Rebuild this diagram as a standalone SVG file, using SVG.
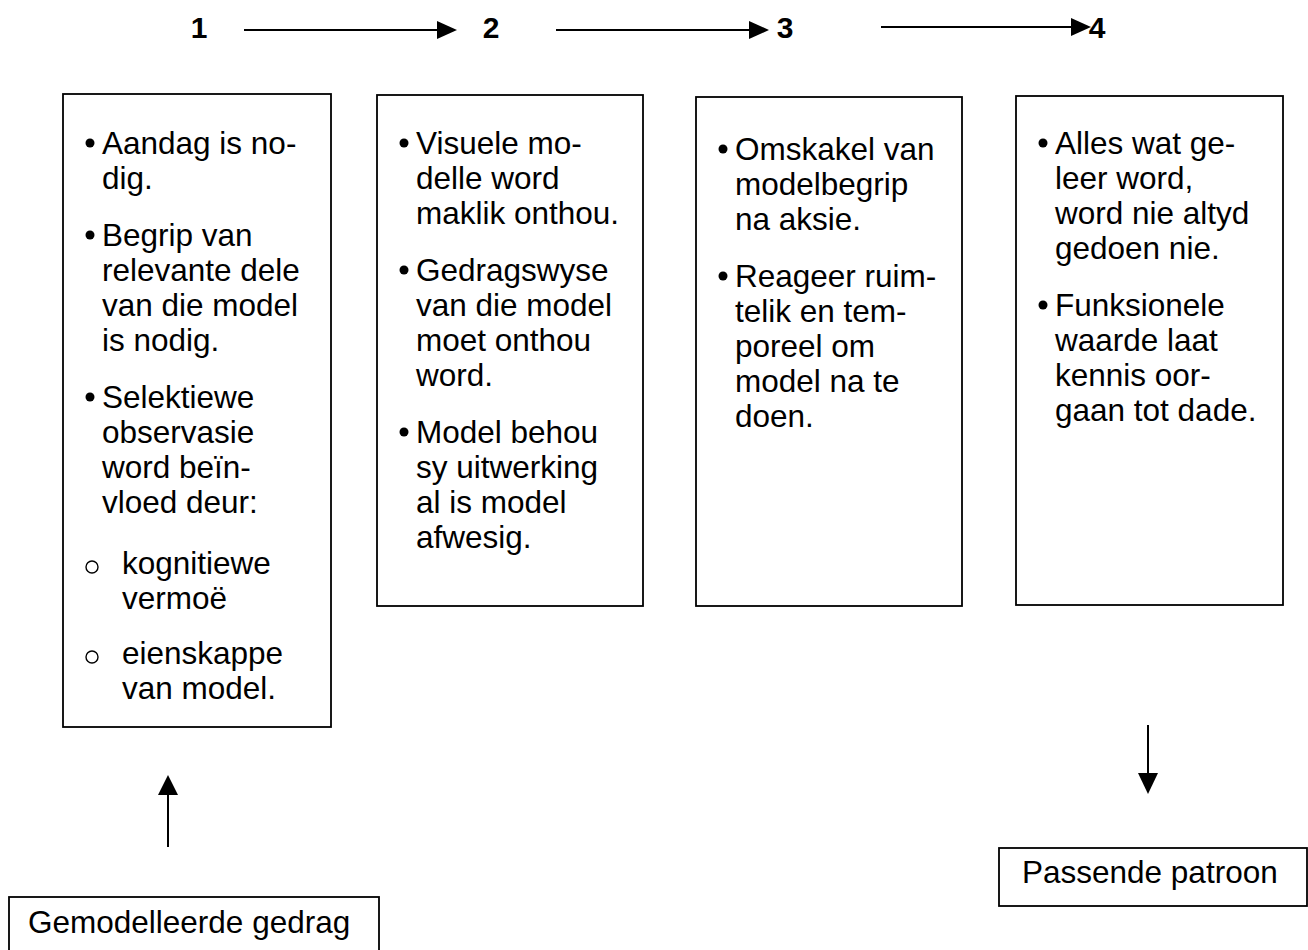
<svg xmlns="http://www.w3.org/2000/svg" width="1308" height="950" viewBox="0 0 1308 950">
<style>
.box{fill:#fff;stroke:#000;stroke-width:1.8}
.t{font-family:"Liberation Sans",Arial,sans-serif;font-size:31.5px;fill:#000}
.num{font-family:"Liberation Sans",Arial,sans-serif;font-size:30px;font-weight:bold;fill:#000;text-anchor:middle}
.dot{fill:#000}
.ring{fill:none;stroke:#000;stroke-width:1.4}
.ln{stroke:#000;stroke-width:2;fill:none}
.ah{fill:#000}
</style>
<rect width="1308" height="950" fill="#fff"/>

<g id="step-labels">
<text class="num" x="199" y="38">1</text>
<text class="num" x="491" y="38">2</text>
<text class="num" x="785" y="38">3</text>
<text class="num" x="1097" y="38">4</text>
</g>

<g id="connectors">
<line class="ln" x1="244" y1="30" x2="440" y2="30"/>
<polygon class="ah" points="437,21 457,30 437,39"/>
<line class="ln" x1="556" y1="30" x2="752" y2="30"/>
<polygon class="ah" points="749,21 769,30 749,39"/>
<line class="ln" x1="881" y1="27" x2="1074" y2="27"/>
<polygon class="ah" points="1071,18 1091,27 1071,36"/>
<line class="ln" x1="168" y1="847" x2="168" y2="792"/>
<polygon class="ah" points="168,775 158,795 178,795"/>
<line class="ln" x1="1148" y1="725" x2="1148" y2="776"/>
<polygon class="ah" points="1138,773 1158,773 1148,794"/>
</g>

<g id="box1">
<rect class="box" x="63" y="94" width="268" height="633"/>
<circle class="dot" cx="90" cy="143" r="4.5"/>
<text class="t" x="102" y="154">Aandag is no-</text>
<text class="t" x="102" y="189">dig.</text>
<circle class="dot" cx="90" cy="235" r="4.5"/>
<text class="t" x="102" y="246">Begrip van</text>
<text class="t" x="102" y="281">relevante dele</text>
<text class="t" x="102" y="316">van die model</text>
<text class="t" x="102" y="351">is nodig.</text>
<circle class="dot" cx="90" cy="397" r="4.5"/>
<text class="t" x="102" y="408">Selektiewe</text>
<text class="t" x="102" y="443">observasie</text>
<text class="t" x="102" y="478">word beïn-</text>
<text class="t" x="102" y="513">vloed deur:</text>
<circle class="ring" cx="92" cy="567" r="6"/>
<text class="t" x="122" y="574">kognitiewe</text>
<text class="t" x="122" y="609">vermoë</text>
<circle class="ring" cx="92" cy="657" r="6"/>
<text class="t" x="122" y="664">eienskappe</text>
<text class="t" x="122" y="699">van model.</text>
</g>

<g id="box2">
<rect class="box" x="377" y="95" width="266" height="511"/>
<circle class="dot" cx="404" cy="143" r="4.5"/>
<text class="t" x="416" y="154">Visuele mo-</text>
<text class="t" x="416" y="189">delle word</text>
<text class="t" x="416" y="224">maklik onthou.</text>
<circle class="dot" cx="404" cy="270" r="4.5"/>
<text class="t" x="416" y="281">Gedragswyse</text>
<text class="t" x="416" y="316">van die model</text>
<text class="t" x="416" y="351">moet onthou</text>
<text class="t" x="416" y="386">word.</text>
<circle class="dot" cx="404" cy="432" r="4.5"/>
<text class="t" x="416" y="443">Model behou</text>
<text class="t" x="416" y="478">sy uitwerking</text>
<text class="t" x="416" y="513">al is model</text>
<text class="t" x="416" y="548">afwesig.</text>
</g>

<g id="box3">
<rect class="box" x="696" y="97" width="266" height="509"/>
<circle class="dot" cx="723" cy="149" r="4.5"/>
<text class="t" x="735" y="160">Omskakel van</text>
<text class="t" x="735" y="195">modelbegrip</text>
<text class="t" x="735" y="230">na aksie.</text>
<circle class="dot" cx="723" cy="276" r="4.5"/>
<text class="t" x="735" y="287">Reageer ruim-</text>
<text class="t" x="735" y="322">telik en tem-</text>
<text class="t" x="735" y="357">poreel om</text>
<text class="t" x="735" y="392">model na te</text>
<text class="t" x="735" y="427">doen.</text>
</g>

<g id="box4">
<rect class="box" x="1016" y="96" width="267" height="509"/>
<circle class="dot" cx="1043" cy="143" r="4.5"/>
<text class="t" x="1055" y="154">Alles wat ge-</text>
<text class="t" x="1055" y="189">leer word,</text>
<text class="t" x="1055" y="224">word nie altyd</text>
<text class="t" x="1055" y="259">gedoen nie.</text>
<circle class="dot" cx="1043" cy="305" r="4.5"/>
<text class="t" x="1055" y="316">Funksionele</text>
<text class="t" x="1055" y="351">waarde laat</text>
<text class="t" x="1055" y="386">kennis oor-</text>
<text class="t" x="1055" y="421">gaan tot dade.</text>
</g>

<g id="gemodelleerde-gedrag">
<rect class="box" x="9" y="897" width="370" height="70"/>
<text class="t" x="28" y="933">Gemodelleerde gedrag</text>
</g>

<g id="passende-patroon">
<rect class="box" x="999" y="848" width="308" height="58"/>
<text class="t" x="1022" y="883">Passende patroon</text>
</g>
</svg>
